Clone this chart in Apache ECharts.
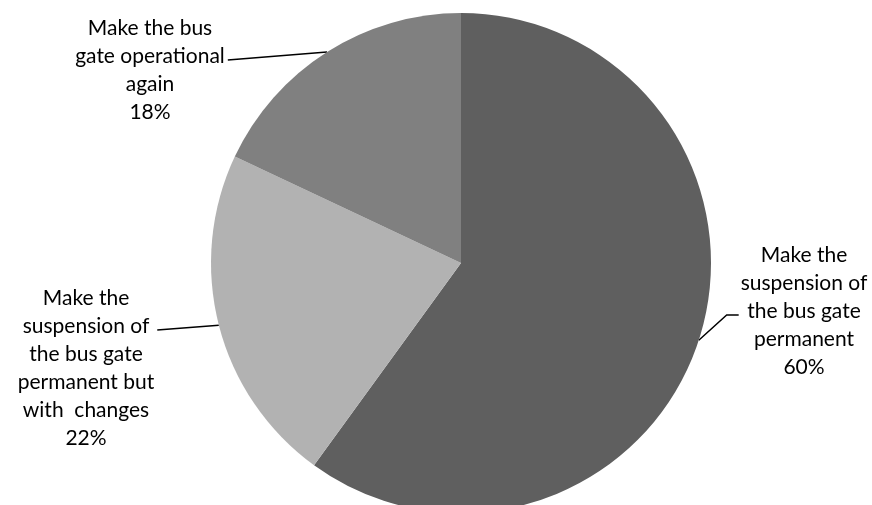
<!DOCTYPE html>
<html>
<head>
<meta charset="utf-8">
<script src="https://cdn.jsdelivr.net/npm/echarts@6/dist/echarts.min.js"></script>
<style>
html,body{margin:0;padding:0;background:#fff;}
#chart{width:872px;height:505px;}
</style>
</head>
<body>
<div id="chart"></div>
<script>
const categories = [
  "Make the\nsuspension of\nthe bus gate\npermanent",
  "Make the\nsuspension of\nthe bus gate\npermanent but\nwith  changes",
  "Make the bus\ngate operational\nagain"
];
const values = [60, 22, 18];
const colors = ["#5f5f5f", "#b2b2b2", "#808080"];
// label block centres and which text line the leader joins (layout only)
const labelCenters = [[804, 311], [86, 368], [150, 70]];
const leaderLine = [2, 1, 1];
const LH = 28;

const chart = echarts.init(document.getElementById('chart'), null, {renderer: 'canvas'});
chart.setOption({
  animation: false,
  backgroundColor: '#ffffff',
  series: [{
    type: 'pie',
    center: [461, 263],
    radius: [0, 250],
    startAngle: 90,
    clockwise: true,
    data: categories.map((c, i) => ({name: c, value: values[i], itemStyle: {color: colors[i]}})),
    itemStyle: {borderWidth: 0},
    label: {
      show: true,
      position: 'outside',
      formatter: '{b}\n{d}%',
      fontFamily: 'Lato',
      fontSize: 21,
      lineHeight: LH,
      color: '#000',
      align: 'center',
      overflow: 'none'
    },
    labelLine: {
      show: true,
      smooth: false,
      length: 15,
      length2: 20,
      lineStyle: {color: '#000', width: 1.5}
    },
    labelLayout: function (p) {
      const c = labelCenters[p.dataIndex];
      const w = p.labelRect.width, h = p.labelRect.height;
      const left = c[0] - w / 2, top = c[1] - h / 2;
      const start = p.labelLinePoints ? p.labelLinePoints[0] : null;
      const ly = top + LH * (leaderLine[p.dataIndex] + 0.5) + 4;
      let pts;
      if (start) {
        if (start[0] < left) {
          pts = [start, [left - 14, ly], [left - 2, ly]];
        } else {
          pts = [start, [left + w + 3, ly]];
        }
      }
      const out = {x: c[0], y: c[1], align: 'center', verticalAlign: 'middle'};
      if (pts) out.labelLinePoints = pts;
      return out;
    },
    emphasis: {disabled: true}
  }]
});
</script>
</body>
</html>
